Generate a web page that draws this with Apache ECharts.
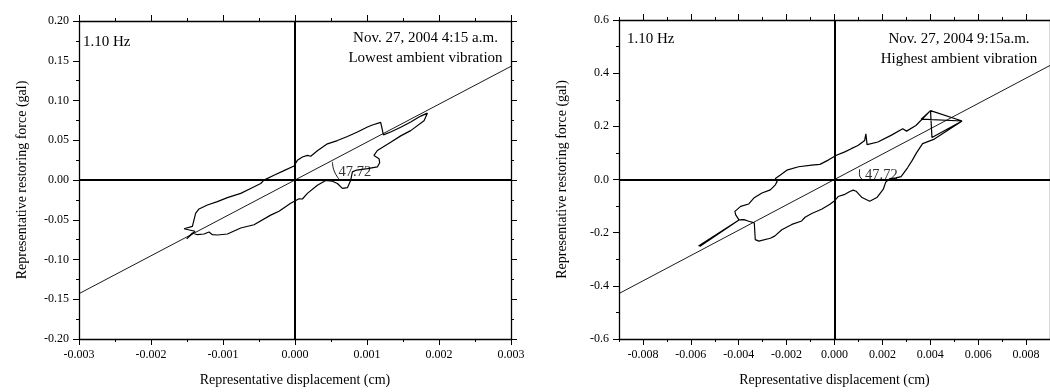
<!DOCTYPE html>
<html>
<head>
<meta charset="utf-8">
<script src="https://cdn.jsdelivr.net/npm/echarts@6/dist/echarts.min.js"></script>
<style>
html,body{margin:0;padding:0;background:#fff;}
#chart{width:1050px;height:392px;}
</style>
</head>
<body>
<div id="chart"></div>
<script>
// ---- Data ----
// Panel 1 (Nov. 27, 2004 4:15 a.m., lowest ambient vibration)
const loop1 = [
[-0.001542,-0.0613],[-0.001425,-0.0583],[-0.001403,-0.0501],[-0.001379,-0.0417],
[-0.001333,-0.0364],[-0.001217,-0.0314],[-0.001078,-0.0272],[-0.000939,-0.0222],
[-0.000754,-0.0168],[-0.000615,-0.0106],[-0.000476,-0.0044],[-0.000431,-0.0002],
[-0.000292,0.0060],[-0.000153,0.0118],[-0.000014,0.0177],[0.000033,0.0247],
[0.000103,0.0289],[0.000172,0.0309],[0.000218,0.0299],[0.000311,0.0368],
[0.000450,0.0455],[0.000589,0.0496],[0.000728,0.0548],[0.000867,0.0604],
[0.001006,0.0667],[0.001075,0.0692],[0.001190,0.0725],[0.001214,0.0733],
[0.001228,0.0567],[0.001329,0.0604],[0.001468,0.0663],[0.001607,0.0729],
[0.001746,0.0804],[0.001839,0.0841],[0.001847,0.0816],[0.001792,0.0745],
[0.001607,0.0621],[0.001468,0.0555],[0.001329,0.0476],[0.001144,0.0371],
[0.001097,0.0309],[0.001167,0.0268],[0.001176,0.0218],[0.001144,0.0164],
[0.001006,0.0143],[0.000857,0.0125],[0.000797,0.0102],[0.000774,-0.0002],
[0.000728,-0.0097],[0.000658,-0.0106],[0.000589,-0.0044],[0.000519,-0.0015],
[0.000426,-0.0006],[0.000311,-0.0065],[0.000172,-0.0168],[0.000103,-0.0239],
[0.000056,-0.0237],[0.000033,-0.0218],[-0.000060,-0.0293],[-0.000222,-0.0393],
[-0.000338,-0.0442],[-0.000569,-0.0563],[-0.000754,-0.0604],[-0.000939,-0.0679],
[-0.001078,-0.0692],[-0.001147,-0.0688],[-0.001194,-0.0654],[-0.001264,-0.0679],
[-0.001356,-0.0688],[-0.001425,-0.0667],[-0.001504,-0.0741],[-0.001389,-0.0645],
[-0.001542,-0.0613]
];
const fit1 = [[-0.003,-0.143],[0.003,0.143]];
const arc1 = [[0.00052,0.0227],[0.000544,0.0113],[0.00062,0.0]];

// Panel 2 (Nov. 27, 2004 9:15 a.m., highest ambient vibration)
const loop2 = [
[-0.00568,-0.250],[-0.00399,-0.152],[-0.00413,-0.132],[-0.00416,-0.120],
[-0.00392,-0.101],[-0.00358,-0.092],[-0.00337,-0.070],[-0.00303,-0.051],
[-0.00268,-0.039],[-0.00247,-0.020],[-0.00240,-0.008],[-0.00247,0.004],
[-0.00226,0.017],[-0.00199,0.035],[-0.00150,0.048],[-0.00095,0.054],
[-0.00061,0.057],[-0.00026,0.073],[0.00008,0.091],[0.00043,0.104],
[0.00070,0.116],[0.00098,0.128],[0.00126,0.147],[0.00131,0.172],
[0.00136,0.131],[0.00181,0.141],[0.00236,0.166],[0.00285,0.191],
[0.00301,0.182],[0.00340,0.203],[0.00401,0.259],[0.00362,0.227],
[0.00533,0.220],[0.00401,0.259],[0.00407,0.158],[0.00533,0.220],
[0.00417,0.152],[0.00368,0.135],[0.00343,0.101],[0.00324,0.071],
[0.00305,0.044],[0.00278,0.011],[0.00257,0.006],[0.00231,0.003],
[0.00214,-0.010],[0.00204,-0.036],[0.00177,-0.068],[0.00147,-0.082],
[0.00115,-0.068],[0.00090,-0.044],[0.00078,-0.040],[0.00064,-0.045],
[0.00040,-0.057],[0.00015,-0.064],[0.00002,-0.079],[-0.00019,-0.093],
[-0.00054,-0.112],[-0.00095,-0.128],[-0.00123,-0.142],[-0.00137,-0.156],
[-0.00178,-0.169],[-0.00220,-0.189],[-0.00250,-0.213],[-0.00268,-0.221],
[-0.00275,-0.219],[-0.00316,-0.232],[-0.00331,-0.226],[-0.00335,-0.163],
[-0.00358,-0.157],[-0.00378,-0.151],[-0.00399,-0.152],[-0.00563,-0.252]
];
const fit2 = [[-0.009,-0.429],[0.009,0.429]];
const arc2 = [[0.00105,0.039],[0.00104,0.019],[0.00116,0.0]];

// Axis ticks / labels
const x1Range = [-0.003, 0.003], x1Step = 0.001;
const y1Range = [-0.20, 0.20], y1Step = 0.05;
const x2Range = [-0.009, 0.009], x2MinorStep = 0.001;
const x2Major = [-0.008,-0.006,-0.004,-0.002,0,0.002,0.004,0.006,0.008];
const y2Range = [-0.6, 0.6], y2Step = 0.2;

const slopeLabel = '47.72';
const freqLabel = '1.10 Hz';
const p1Lines = ['Nov. 27, 2004 4:15 a.m.', 'Lowest ambient vibration'];
const p2Lines = ['Nov. 27, 2004 9:15a.m.', 'Highest ambient vibration'];
const xTitle = 'Representative displacement (cm)';
const yTitle = 'Representative restoring force (gal)';

// ---- Chart ----
const FONT = '"Liberation Serif", "Times New Roman", serif';
const BLACK = '#000';
const fmt = d => v => (Math.abs(v) < 1e-12 ? 0 : v).toFixed(d);

function baseAxis(extra) {
  return Object.assign({
    type: 'value',
    splitLine: { show: false },
    axisLine: { show: true, onZero: false, lineStyle: { color: BLACK, width: 1.3 } },
    axisTick: { show: true, inside: false, length: 6, lineStyle: { color: BLACK, width: 1 } },
    minorTick: { show: true, splitNumber: 2, length: 3, lineStyle: { color: BLACK, width: 1 } },
    axisLabel: { show: false, color: BLACK, fontFamily: FONT, fontSize: 12, margin: 10 },
    nameTextStyle: { color: BLACK, fontFamily: FONT, fontSize: 14 },
    nameLocation: 'middle'
  }, extra);
}

const chart = echarts.init(document.getElementById('chart'), null, { renderer: 'canvas' });

const zeroMark = {
  silent: true, symbol: ['none', 'none'], label: { show: false },
  lineStyle: { color: BLACK, width: 2, type: 'solid' },
  emphasis: { disabled: true },
  data: [{ xAxis: 0 }, { yAxis: 0 }]
};

const xLabel = d => ({ show: true, color: BLACK, fontFamily: FONT, fontSize: 12, margin: 10, formatter: fmt(d), showMinLabel: true, showMaxLabel: true });
const yLabel = d => ({ show: true, color: BLACK, fontFamily: FONT, fontSize: 12, margin: 10, formatter: fmt(d), showMinLabel: true, showMaxLabel: true });

const option = {
  animation: false,
  backgroundColor: '#fff',
  grid: [
    { left: 79, top: 21, right: 539, bottom: 50, containLabel: false },
    { left: 619, top: 20, right: -3, bottom: 50, containLabel: false }
  ],
  xAxis: [
    baseAxis({ gridIndex: 0, position: 'bottom', min: x1Range[0], max: x1Range[1], interval: x1Step,
      axisLabel: xLabel(3), name: xTitle, nameGap: 34 }),
    baseAxis({ gridIndex: 0, position: 'top', min: x1Range[0], max: x1Range[1], interval: x1Step }),
    baseAxis({ gridIndex: 1, position: 'bottom', min: x2Range[0], max: x2Range[1], interval: x2MinorStep,
      axisTick: { show: true, inside: false, length: 3, lineStyle: { color: BLACK, width: 1 } },
      minorTick: { show: false } }),
    baseAxis({ gridIndex: 1, position: 'bottom', min: x2Range[0], max: x2Range[1], interval: x2MinorStep,
      axisLine: { show: false, onZero: false },
      axisTick: { show: true, inside: false, length: 6, customValues: x2Major, lineStyle: { color: BLACK, width: 1 } },
      minorTick: { show: false },
      axisLabel: Object.assign(xLabel(3), { customValues: x2Major }),
      name: xTitle, nameGap: 34 }),
    baseAxis({ gridIndex: 1, position: 'top', min: x2Range[0], max: x2Range[1], interval: x2MinorStep,
      axisTick: { show: true, inside: false, length: 3, lineStyle: { color: BLACK, width: 1 } },
      minorTick: { show: false } }),
    baseAxis({ gridIndex: 1, position: 'top', min: x2Range[0], max: x2Range[1], interval: x2MinorStep,
      axisLine: { show: false, onZero: false },
      axisTick: { show: true, inside: false, length: 6, customValues: x2Major, lineStyle: { color: BLACK, width: 1 } },
      minorTick: { show: false } })
  ],
  yAxis: [
    baseAxis({ gridIndex: 0, position: 'left', min: y1Range[0], max: y1Range[1], interval: y1Step,
      axisLabel: yLabel(2), name: yTitle, nameGap: 50 }),
    baseAxis({ gridIndex: 0, position: 'right', min: y1Range[0], max: y1Range[1], interval: y1Step }),
    baseAxis({ gridIndex: 1, position: 'left', min: y2Range[0], max: y2Range[1], interval: y2Step,
      axisLabel: yLabel(1), name: yTitle, nameGap: 50 }),
    baseAxis({ gridIndex: 1, position: 'right', min: y2Range[0], max: y2Range[1], interval: y2Step })
  ],
  series: [
    { type: 'line', xAxisIndex: 0, yAxisIndex: 0, data: fit1, showSymbol: false, silent: true,
      lineStyle: { color: BLACK, width: 0.9 } },
    { type: 'line', xAxisIndex: 0, yAxisIndex: 0, data: loop1, showSymbol: false, silent: true,
      lineStyle: { color: BLACK, width: 1.2 }, markLine: zeroMark },
    { type: 'line', xAxisIndex: 0, yAxisIndex: 0, data: arc1, showSymbol: false, silent: true, smooth: true,
      lineStyle: { color: BLACK, width: 0.9 } },
    { type: 'line', xAxisIndex: 2, yAxisIndex: 2, data: fit2, showSymbol: false, silent: true,
      lineStyle: { color: BLACK, width: 0.9 } },
    { type: 'line', xAxisIndex: 2, yAxisIndex: 2, data: loop2, showSymbol: false, silent: true,
      lineStyle: { color: BLACK, width: 1.2 }, markLine: zeroMark },
    { type: 'line', xAxisIndex: 2, yAxisIndex: 2, data: arc2, showSymbol: false, silent: true, smooth: true,
      lineStyle: { color: BLACK, width: 0.9 } }
  ],
  graphic: [
    { type: 'text', x: 83, y: 42, silent: true, style: { text: freqLabel, font: '15px ' + FONT, fill: BLACK, align: 'left', verticalAlign: 'middle' } },
    { type: 'text', x: 425.5, y: 38.5, silent: true, style: { text: p1Lines[0], font: '15px ' + FONT, fill: BLACK, align: 'center', verticalAlign: 'middle' } },
    { type: 'text', x: 425.5, y: 58.5, silent: true, style: { text: p1Lines[1], font: '15px ' + FONT, fill: BLACK, align: 'center', verticalAlign: 'middle' } },
    { type: 'text', x: 338.5, y: 172, silent: true, style: { text: slopeLabel, font: '14.5px ' + FONT, fill: '#333', align: 'left', verticalAlign: 'middle' } },
    { type: 'text', x: 627, y: 39, silent: true, style: { text: freqLabel, font: '15px ' + FONT, fill: BLACK, align: 'left', verticalAlign: 'middle' } },
    { type: 'text', x: 959, y: 39, silent: true, style: { text: p2Lines[0], font: '15px ' + FONT, fill: BLACK, align: 'center', verticalAlign: 'middle' } },
    { type: 'text', x: 959, y: 59.5, silent: true, style: { text: p2Lines[1], font: '15px ' + FONT, fill: BLACK, align: 'center', verticalAlign: 'middle' } },
    { type: 'text', x: 865, y: 175, silent: true, style: { text: slopeLabel, font: '14.5px ' + FONT, fill: '#333', align: 'left', verticalAlign: 'middle' } }
  ]
};
chart.setOption(option);
</script>
</body>
</html>
